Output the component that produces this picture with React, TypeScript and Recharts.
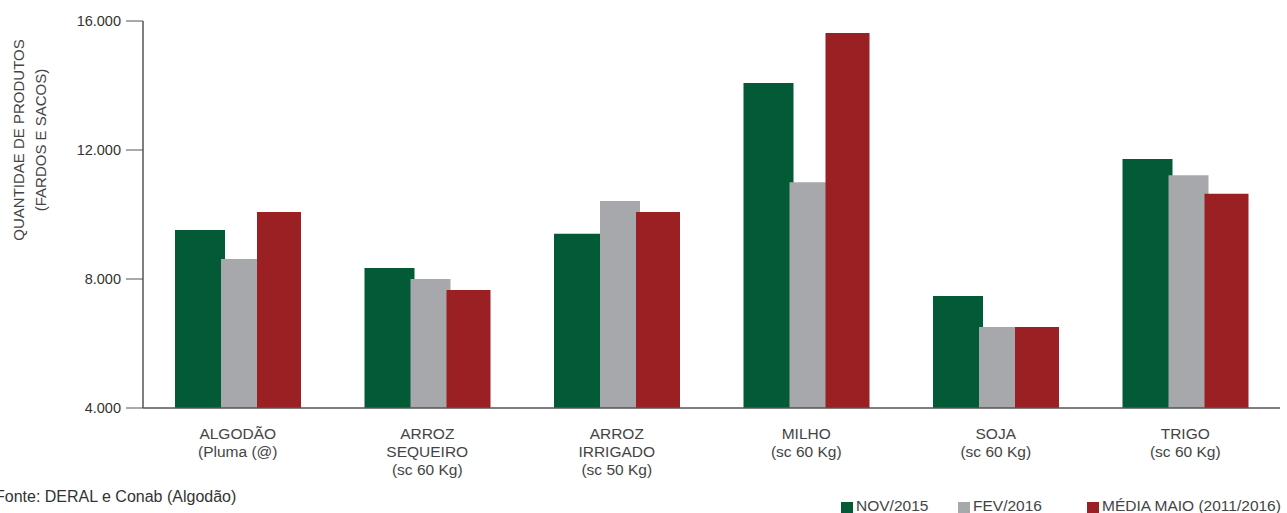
import React from "react";
import { BarChart, Bar, XAxis, YAxis } from "recharts";

const CATEGORIES = [
  "ALGODÃO\n(Pluma (@)",
  "ARROZ\nSEQUEIRO\n(sc 60 Kg)",
  "ARROZ\nIRRIGADO\n(sc 50 Kg)",
  "MILHO\n(sc 60 Kg)",
  "SOJA\n(sc 60 Kg)",
  "TRIGO\n(sc 60 Kg)"
];
const NOV_2015 = [9520, 8340, 9400, 14080, 7470, 11720];
const FEV_2016 = [8620, 8000, 10420, 11000, 6510, 11220];
const MEDIA_MAIO = [10080, 7660, 10080, 15630, 6510, 10640];
const Y_TICKS = [4000, 8000, 12000, 16000];

const SERIES = [
  { key: "nov", name: "NOV/2015", color: "#035a36", size: 50 },
  { key: "fev", name: "FEV/2016", color: "#a7a8ab", size: 40 },
  { key: "media", name: "MÉDIA MAIO (2011/2016)", color: "#9a2024", size: 44 }
];

const data = CATEGORIES.map((c, i) => ({
  cat: c,
  nov: NOV_2015[i],
  fev: FEV_2016[i],
  media: MEDIA_MAIO[i]
}));

const FONT = "'Liberation Sans', Arial, sans-serif";
const fmtThousands = (v: number) =>
  v.toString().replace(/\B(?=(\d{3})+(?!\d))/g, ".");

function CategoryTick({ x, y, payload }: any) {
  const lines = String(payload.value).split("\n");
  return (
    <text
      x={x}
      y={y + 23}
      textAnchor="middle"
      fill="#444"
      fontSize={15.5}
      fontFamily={FONT}
    >
      {lines.map((l, i) => (
        <tspan key={i} x={x} dy={i === 0 ? 0 : 18}>
          {l}
        </tspan>
      ))}
    </text>
  );
}

// legend lives outside the chart so it doesn't shrink the plot area
function LegendRow() {
  const left = [841, 958, 1087];
  return (
    <>
      {SERIES.map((s, i) => (
        <div
          key={s.key}
          style={{
            position: "absolute",
            left: left[i],
            top: 497,
            display: "flex",
            alignItems: "center",
            fontFamily: FONT,
            fontSize: 15.5,
            color: "#444",
            whiteSpace: "nowrap",
            lineHeight: "18px"
          }}
        >
          <span
            style={{
              display: "inline-block",
              width: 12,
              height: 12,
              background: s.color,
              marginRight: 3,
              marginTop: 3
            }}
          />
          {s.name}
        </div>
      ))}
    </>
  );
}

export default function App() {
  return (
    <div
      style={{
        position: "absolute",
        left: 0,
        top: 0,
        width: 1287,
        height: 513,
        background: "#fff",
        overflow: "hidden"
      }}
    >
      <BarChart
        width={1287}
        height={513}
        data={data}
        margin={{ top: 21, right: 7, bottom: 0, left: 83 }}
        barCategoryGap={0}
        barGap={-4}
      >
        <XAxis
          dataKey="cat"
          interval={0}
          tickLine={false}
          tick={<CategoryTick />}
          axisLine={{ stroke: "#555", strokeWidth: 1.5 }}
          height={105}
        />
        <YAxis
          width={60}
          domain={[4000, 16000]}
          ticks={Y_TICKS}
          allowDataOverflow
          tickFormatter={fmtThousands}
          tickSize={17}
          tickMargin={5}
          tickLine={{ stroke: "#555" }}
          axisLine={{ stroke: "#555", strokeWidth: 1.5 }}
          tick={{ fontSize: 14.5, fill: "#333", fontFamily: FONT }}
        />
        {SERIES.map((s) => (
          <Bar
            key={s.key}
            dataKey={s.key}
            name={s.name}
            fill={s.color}
            barSize={s.size}
            isAnimationActive={false}
          />
        ))}
      </BarChart>
      <LegendRow />
      <div
        style={{
          position: "absolute",
          left: 30,
          top: 140,
          transform: "translate(-50%, -50%) rotate(-90deg)",
          fontFamily: FONT,
          fontSize: 15,
          color: "#444",
          textAlign: "center",
          lineHeight: "22px",
          whiteSpace: "nowrap"
        }}
      >
        QUANTIDAE DE PRODUTOS
        <br />
        (FARDOS E SACOS)
      </div>
      <div
        style={{
          position: "absolute",
          left: -5,
          top: 488,
          fontFamily: FONT,
          fontSize: 16,
          color: "#333",
          whiteSpace: "nowrap"
        }}
      >
        Fonte: DERAL e Conab (Algodão)
      </div>
    </div>
  );
}
